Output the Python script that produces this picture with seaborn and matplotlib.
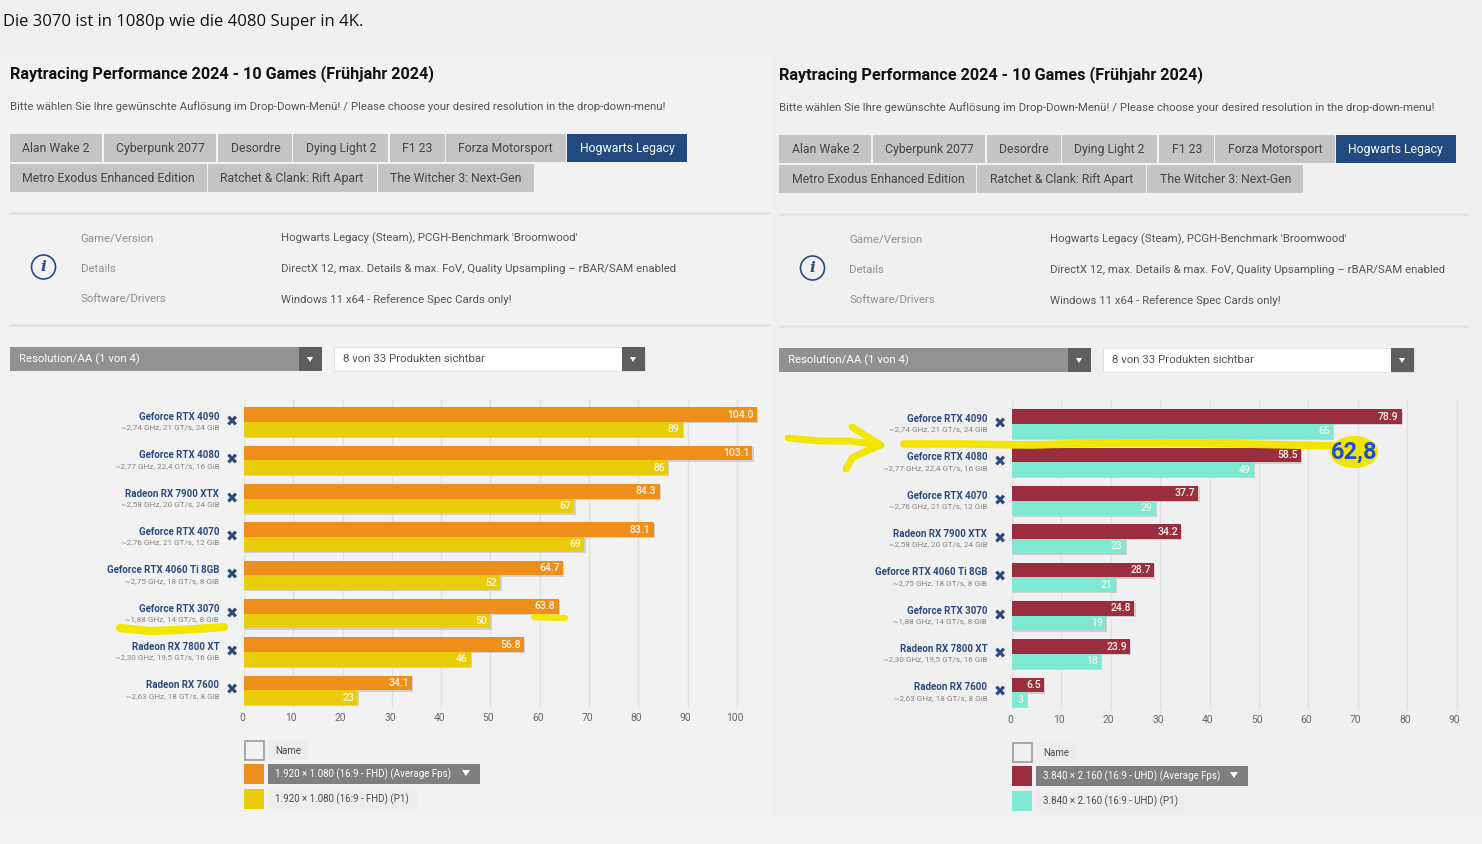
import matplotlib
matplotlib.use("Agg")
import matplotlib.pyplot as plt
import matplotlib.patheffects as pe
import pandas as pd
import seaborn as sns
from matplotlib.patches import Circle, Ellipse, Polygon, Rectangle
from matplotlib.transforms import ScaledTranslation

W, H = 1482, 844

cards_fhd = ["Geforce RTX 4090", "Geforce RTX 4080", "Radeon RX 7900 XTX", "Geforce RTX 4070",
             "Geforce RTX 4060 Ti 8GB", "Geforce RTX 3070", "Radeon RX 7800 XT", "Radeon RX 7600"]
specs_fhd = ["~2,74 GHz, 21 GT/s, 24 GiB", "~2,77 GHz, 22,4 GT/s, 16 GiB", "~2,58 GHz, 20 GT/s, 24 GiB",
             "~2,76 GHz, 21 GT/s, 12 GiB", "~2,75 GHz, 18 GT/s, 8 GiB", "~1,88 GHz, 14 GT/s, 8 GiB",
             "~2,30 GHz, 19,5 GT/s, 16 GiB", "~2,63 GHz, 18 GT/s, 8 GiB"]
avg_fhd = [104.0, 103.1, 84.3, 83.1, 64.7, 63.8, 56.8, 34.1]
p1_fhd = [89, 86, 67, 69, 52, 50, 46, 23]

cards_uhd = ["Geforce RTX 4090", "Geforce RTX 4080", "Geforce RTX 4070", "Radeon RX 7900 XTX",
             "Geforce RTX 4060 Ti 8GB", "Geforce RTX 3070", "Radeon RX 7800 XT", "Radeon RX 7600"]
specs_uhd = ["~2,74 GHz, 21 GT/s, 24 GiB", "~2,77 GHz, 22,4 GT/s, 16 GiB", "~2,76 GHz, 21 GT/s, 12 GiB",
             "~2,58 GHz, 20 GT/s, 24 GiB", "~2,75 GHz, 18 GT/s, 8 GiB", "~1,88 GHz, 14 GT/s, 8 GiB",
             "~2,30 GHz, 19,5 GT/s, 16 GiB", "~2,63 GHz, 18 GT/s, 8 GiB"]
avg_uhd = [78.9, 58.5, 37.7, 34.2, 28.7, 24.8, 23.9, 6.5]
p1_uhd = [65, 49, 29, 23, 21, 19, 18, 3]

ticks_fhd = list(range(0, 101, 10))
ticks_uhd = list(range(0, 91, 10))

tabs_row1 = ["Alan Wake 2", "Cyberpunk 2077", "Desordre", "Dying Light 2", "F1 23", "Forza Motorsport", "Hogwarts Legacy"]
tabs_row2 = ["Metro Exodus Enhanced Edition", "Ratchet & Clank: Rift Apart", "The Witcher 3: Next-Gen"]
tabs_row1_x = [(10, 102), (103.5, 216), (218, 291.5), (293, 388), (390, 445), (446, 565.5), (567, 687)]
tabs_row2_x = [(10, 207), (208, 377), (378, 534)]

NAVY = "#2a4b7f"
GREY_TXT = "#8f8f8f"
DARK_TXT = "#4a4a4a"

sns.set_style("white")
plt.rcParams["font.family"] = ["Roboto", "DejaVu Sans"]


def px_axes(fig, left, top, right, bottom, zorder):
    return fig.add_axes([left / W, 1 - bottom / H, (right - left) / W, (bottom - top) / H], zorder=zorder)


def draw_panel(bg, dx, dy, legend_dy, avg_label, p1_label):
    # header + tabs + info block + dropdowns, everything in pixel coordinates
    bg.text(10 + dx, 74 + dy, "Raytracing Performance 2024 - 10 Games (Frühjahr 2024)", fontsize=11.7,
            fontweight="bold", color="#111111", va="center")
    bg.text(10 + dx, 107 + dy, "Bitte wählen Sie Ihre gewünschte Auflösung im Drop-Down-Menü! / "
            "Please choose your desired resolution in the drop-down-menu!", fontsize=8.2, color="#555555", va="center")
    for names, spans, top in [(tabs_row1, tabs_row1_x, 134), (tabs_row2, tabs_row2_x, 164)]:
        for name, (x0, x1) in zip(names, spans):
            active = name == "Hogwarts Legacy"
            bg.add_patch(Rectangle((x0 + dx, top + dy), x1 - x0, 28, fc="#234a7e" if active else "#c4c4c4", lw=0))
            bg.text(x0 + 12.5 + dx, top + 14.5 + dy, name, fontsize=8.85, va="center",
                    color="white" if active else "#444444")
    right = 770 if dx == 0 else 1467
    for y in (213, 325):
        bg.plot([10 + dx, right], [y + dy, y + dy], color="#e3e3e3", lw=2, solid_capstyle="butt")
    rows = [("Game/Version", "Hogwarts Legacy (Steam), PCGH-Benchmark 'Broomwood'", 238.5),
            ("Details", "DirectX 12, max. Details & max. FoV, Quality Upsampling – rBAR/SAM enabled", 269),
            ("Software/Drivers", "Windows 11 x64 - Reference Spec Cards only!", 299.5)]
    for key, val, y in rows:
        bg.text(80.5 + dx, y + dy, key, fontsize=8.17, color=GREY_TXT, va="center")
        bg.text(281 + dx, y + dy, val, fontsize=8.17, color="#555555", va="center")
    bg.add_patch(Circle((43.5 + dx, 267 + dy), 12, fc="none", ec=NAVY, lw=1.2))
    bg.text(43.5 + dx, 267 + dy, "i", fontsize=11, fontstyle="italic", fontweight="bold", family="DejaVu Serif",
            color=NAVY, ha="center", va="center")

    bg.add_patch(Rectangle((10 + dx, 347 + dy), 311, 24, fc="#919191", lw=0))
    bg.add_patch(Rectangle((334 + dx, 347 + dy), 311, 24, fc="white", ec="#dddddd", lw=0.6))
    for x0 in (299, 622):
        bg.add_patch(Rectangle((x0 + dx, 347 + dy), 22.5, 24, fc="#5e5e5e", lw=0))
        cx = x0 + 11 + dx
        bg.add_patch(Polygon([(cx - 3, 357 + dy), (cx + 3, 357 + dy), (cx, 362 + dy)], fc="white", lw=0))
    bg.text(19 + dx, 359 + dy, "Resolution/AA (1 von 4)", fontsize=8.17, color="white", va="center")
    bg.text(343 + dx, 359 + dy, "8 von 33 Produkten sichtbar", fontsize=8.17, color="#555555", va="center")

    # legend under the chart
    lx = 244 + dx - (1 if dx else 0)
    ly = legend_dy
    bg.add_patch(Rectangle((lx + 0.5, 740.5 + ly), 19, 19, fc="none", ec="#9a9a9a", lw=1.2))
    bg.add_patch(Rectangle((lx + 24, 740 + ly), 40, 20, fc="#ededed", lw=0))
    bg.text(lx + 31, 750.5 + ly, "Name", fontsize=7.0, color=DARK_TXT, va="center")
    bg.add_patch(Rectangle((lx + 24, 764 + ly), 212, 20, fc="#7f7f7f", lw=0))
    bg.text(lx + 31, 774.5 + ly, avg_label[0], fontsize=7.0, color="white", va="center")
    bg.add_patch(Polygon([(lx + 218, 770 + ly), (lx + 226, 770 + ly), (lx + 222, 776 + ly)], fc="white", lw=0))
    bg.add_patch(Rectangle((lx, 764 + ly), 20, 20, fc=avg_label[1], lw=0))
    bg.add_patch(Rectangle((lx + 24, 789 + ly), 149, 20, fc="#ededed", lw=0))
    bg.text(lx + 31, 799.5 + ly, p1_label[0], fontsize=7.0, color=DARK_TXT, va="center")
    bg.add_patch(Rectangle((lx, 789 + ly), 20, 20, fc=p1_label[1], lw=0))


def draw_chart(ax, cards, specs, avg, p1, ticks, colors):
    df = pd.DataFrame({"card": cards * 2, "fps": avg + p1,
                       "series": ["avg"] * len(cards) + ["p1"] * len(cards)})
    sns.barplot(data=df, y="card", x="fps", hue="series", order=cards, hue_order=["avg", "p1"],
                palette=dict(zip(["avg", "p1"], colors)), orient="h", width=0.76, gap=0, saturation=1,
                linewidth=0, legend=False, ax=ax)
    ax.patch.set_alpha(0)
    sns.despine(ax=ax, left=True, bottom=True)
    ax.set_xlabel("")
    ax.set_ylabel("")
    ax.set_yticks([])
    ax.set_ylim(7.46, -0.6)
    ax.set_xticks(ticks)
    ax.set_axisbelow(True)
    ax.xaxis.grid(color="#e1e1e1", linestyle="solid", lw=1)
    ax.tick_params(axis="x", length=0, pad=3.4, labelsize=7.4, labelcolor="#666666")
    shift = ScaledTranslation(-2 / 100, 0, ax.figure.dpi_scale_trans)
    for lbl in ax.get_xticklabels():
        lbl.set_transform(lbl.get_transform() + shift)

    for cont, fmt in zip(ax.containers, ["%.1f", "%d"]):
        for bar in cont:
            bar.set_path_effects([pe.SimplePatchShadow(offset=(1, -1), shadow_rgbFace="#b0b0b0", alpha=0.5), pe.Normal()])
        for t in ax.bar_label(cont, fmt=fmt, padding=-2.2, fontsize=7.5, fontweight="medium", color="#fdf6ea"):
            t.set_ha("right")

    trans = ax.get_yaxis_transform()
    for i, (card, spec) in enumerate(zip(cards, specs)):
        ax.annotate(card, (0, i), xycoords=trans, xytext=(-17.8, 3.6), textcoords="offset points", ha="right",
                    va="center", fontsize=7.0, fontweight="bold", color=NAVY, annotation_clip=False)
        ax.annotate(spec, (0, i), xycoords=trans, xytext=(-17.8, -3.9), textcoords="offset points", ha="right",
                    va="center", fontsize=5.9, color="#858585", annotation_clip=False)
        ax.annotate("✖", (0, i), xycoords=trans, xytext=(-9, 0), textcoords="offset points", ha="center",
                    va="center", fontsize=10.5, color=NAVY, family="DejaVu Sans", annotation_clip=False)


def scribble(ov, xs, ys, width):
    ov.plot(xs, ys, color="#f2e600", lw=width, solid_capstyle="round", solid_joinstyle="round")


def main():
    fig = plt.figure(figsize=(W / 100, H / 100), dpi=100, facecolor="#f4f4f4")

    bg = px_axes(fig, 0, 0, W, H, 0)
    bg.set_xlim(0, W)
    bg.set_ylim(H, 0)
    bg.axis("off")
    bg.add_patch(Rectangle((0, 0), W, 57, fc="#f0f0f0", lw=0))
    bg.add_patch(Rectangle((0, 57), 771, 759, fc="#f2f2f2", lw=0))
    bg.add_patch(Rectangle((771, 57), W - 771, 759, fc="#f0f0f0", lw=0))
    bg.text(3, 21.5, "Die 3070 ist in 1080p wie die 4080 Super in 4K.", fontsize=12.0, family="Open Sans",
            color="#111111", va="center")

    draw_panel(bg, 0, 0, 0, ("1.920 × 1.080 (16:9 - FHD) (Average Fps)", "#ee8f1c"),
               ("1.920 × 1.080 (16:9 - FHD) (P1)", "#e9cc0a"))
    draw_panel(bg, 769, 1, 2, ("3.840 × 2.160 (16:9 - UHD) (Average Fps)", "#9a2e3f"),
               ("3.840 × 2.160 (16:9 - UHD) (P1)", "#7fe8d2"))

    ax_fhd = px_axes(fig, 244, 399, 760, 708, 2)
    draw_chart(ax_fhd, cards_fhd, specs_fhd, avg_fhd, p1_fhd, ticks_fhd, ["#ee8f1c", "#e9cc0a"])
    ax_fhd.set_xlim(0, 104.67)

    ax_uhd = px_axes(fig, 1012, 401, 1460, 710, 2)
    draw_chart(ax_uhd, cards_uhd, specs_uhd, avg_uhd, p1_uhd, ticks_uhd, ["#9a2e3f", "#7fe8d2"])
    ax_uhd.set_xlim(0, 90.7)

    # hand drawn marker strokes on top of the screenshot
    ov = px_axes(fig, 0, 0, W, H, 5)
    ov.set_xlim(0, W)
    ov.set_ylim(H, 0)
    ov.axis("off")
    scribble(ov, [120, 150, 180, 224], [628, 631, 630, 627], 6.0)
    scribble(ov, [534, 565], [617, 618], 4.5)
    scribble(ov, [788, 820, 850, 880], [438, 441, 441, 445], 5)
    scribble(ov, [852, 866, 881, 864, 852, 846], [427, 436, 445, 452, 458, 469], 5)
    scribble(ov, [904, 960, 1030, 1110, 1200, 1290, 1335], [444, 444, 445, 443, 443, 445, 446], 5.5)
    ov.add_patch(Ellipse((1354, 452), 48, 32, fc="#f2e600", lw=0))
    ov.text(1354, 452, "62,8", fontsize=17, fontweight="bold", color="#1f4fd8", ha="center", va="center")

    fig.savefig("out.png", dpi=100, facecolor=fig.get_facecolor())
    plt.close()


if __name__ == "__main__":
    main()
